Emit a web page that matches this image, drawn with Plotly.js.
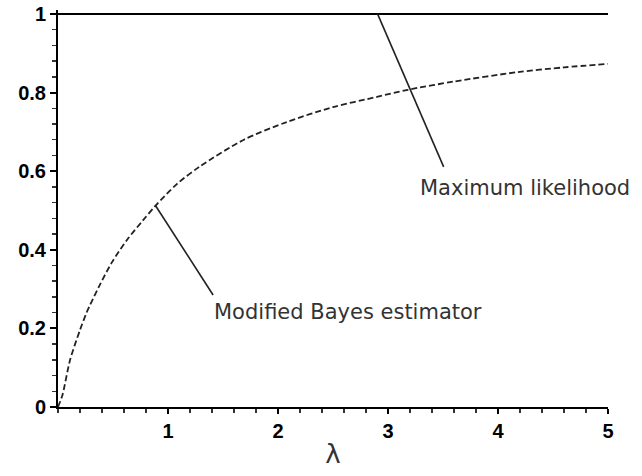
<!DOCTYPE html>
<html>
<head>
<meta charset="utf-8">
<script src="https://cdn.plot.ly/plotly-3.0.1.min.js"></script>
<style>html,body{margin:0;padding:0;background:#fff;}#chart{width:642px;height:476px;}</style>
</head>
<body>
<div id="chart"></div>
<script>
// Modified Bayes estimator (dashed curve)
const bayesLambda = [0, 0.04, 0.11, 0.2, 0.26, 0.37, 0.49, 0.63, 0.77, 0.88, 1.08, 1.29, 1.69, 2.08, 2.5, 2.9, 3.18, 3.6, 4.18, 4.6, 5];
const bayesValue  = [0, 0.03, 0.12, 0.196, 0.24, 0.305, 0.368, 0.426, 0.474, 0.51, 0.567, 0.612, 0.68, 0.725, 0.763, 0.789, 0.807, 0.828, 0.852, 0.864, 0.873];
// Maximum likelihood (solid line)
const mlLambda = [0, 5];
const mlValue  = [1, 1];
// ticks
const xTicks = [1, 2, 3, 4, 5];
const yTicks = [0, 0.2, 0.4, 0.6, 0.8, 1];
const yTickText = ['0', '0.2', '0.4', '0.6', '0.8', '1'];
// annotation labels and pointer lines (data coords)
const labelML = 'Maximum likelihood';
const labelBayes = 'Modified Bayes estimator';
const pointerML = {x0: 2.905, y0: 1.0, x1: 3.506, y1: 0.611, tx: 3.27, ty: 0.557};
const pointerBayes = {x0: 0.883, y0: 0.514, x1: 1.41, y1: 0.285, tx: 1.40, ty: 0.242};

const traces = [
  {x: mlLambda, y: mlValue, mode: 'lines', line: {color: '#000', width: 2}, hoverinfo: 'skip'},
  {x: bayesLambda, y: bayesValue, mode: 'lines', line: {color: '#222', width: 1.8, dash: '6px,3px', shape: 'spline', smoothing: 0.8}, hoverinfo: 'skip'}
];

const tickFont = {family: 'Liberation Sans, Arial, sans-serif', size: 20, color: '#000', weight: 'bold'};
const annFont = {family: 'DejaVu Sans, sans-serif', size: 21, color: '#333'};

const layout = {
  width: 642, height: 476,
  margin: {l: 58, r: 34, t: 10, b: 69},
  paper_bgcolor: '#fff', plot_bgcolor: '#fff',
  showlegend: false,
  xaxis: {
    range: [0, 5], tickvals: xTicks, ticks: 'outside', ticklen: 5, tickwidth: 2, tickcolor: '#000',
    showline: true, linecolor: '#000', linewidth: 2, showgrid: false, zeroline: false,
    tickfont: tickFont,
    minor: {dtick: 0.2, ticks: 'outside', ticklen: 4, tickwidth: 1.5, tickcolor: '#333'},
    title: {text: 'λ', font: {family: 'DejaVu Sans, sans-serif', size: 26, color: '#333'}, standoff: 4}
  },
  yaxis: {
    range: [0, 1.01], tickvals: yTicks, ticktext: yTickText, ticks: 'outside', ticklen: 6, tickwidth: 2, tickcolor: '#000',
    showline: true, linecolor: '#000', linewidth: 2, showgrid: false, zeroline: false,
    tickfont: tickFont,
    minor: {dtick: 0.04, ticks: 'outside', ticklen: 4, tickwidth: 1.5, tickcolor: '#333'}
  },
  shapes: [
    {type: 'line', xref: 'x', yref: 'y', x0: pointerML.x0, y0: pointerML.y0, x1: pointerML.x1, y1: pointerML.y1, line: {color: '#222', width: 1.6}},
    {type: 'line', xref: 'x', yref: 'y', x0: pointerBayes.x0, y0: pointerBayes.y0, x1: pointerBayes.x1, y1: pointerBayes.y1, line: {color: '#222', width: 1.6}}
  ],
  annotations: [
    {xref: 'x', yref: 'y', x: pointerML.tx, y: pointerML.ty, text: labelML, showarrow: false, xanchor: 'left', yanchor: 'middle', font: annFont},
    {xref: 'x', yref: 'y', x: pointerBayes.tx, y: pointerBayes.ty, text: labelBayes, showarrow: false, xanchor: 'left', yanchor: 'middle', font: annFont}
  ]
};

Plotly.newPlot('chart', traces, layout, {staticPlot: true, displayModeBar: false});
</script>
</body>
</html>
